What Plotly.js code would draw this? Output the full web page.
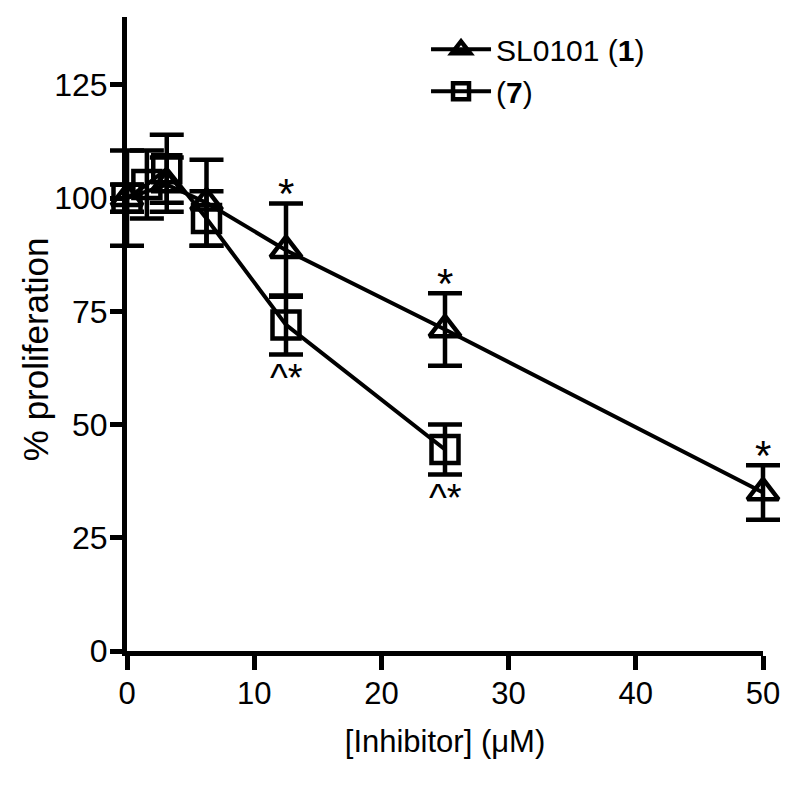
<!DOCTYPE html>
<html>
<head>
<meta charset="utf-8">
<script src="https://cdn.plot.ly/plotly-3.0.1.min.js"></script>
<style>html,body{margin:0;padding:0;background:#fff;}#chart{width:800px;height:786px;}</style>
</head>
<body>
<div id="chart"></div>
<script>
// SL0101 (1) — triangles
const triX = [0, 3.125, 6.25, 12.5, 25, 50];
const triY = [100, 103, 99, 88.5, 71, 35];
const triErr = [10.5, 6, 9.5, 10.3, 8, 6];
const triSig = ['', '', '', '*', '*', '*'];

// (7) — squares
const sqX = [0, 1.5625, 3.125, 6.25, 12.5, 25];
const sqY = [100, 103, 106.5, 95.5, 72, 44.5];
const sqErr = [3, 7.5, 7.5, 6, 6.5, 5.5];
const sqSig = ['', '', '', '', '^*', '^*'];

const seriesNames = ['SL0101 (<b>1</b>)', '(<b>7</b>)'];
const xTicks = [0, 10, 20, 30, 40, 50];
const yTicks = [0, 25, 50, 75, 100, 125];
const xTitle = '[Inhibitor] (\u03bcM)';
const yTitle = '% proliferation';

const FONT = 'Liberation Sans, Arial, sans-serif';
const errStyle = {type: 'data', visible: true, color: '#000', thickness: 4.5, width: 17};

// geometry: visible x axis spans px 127..763 for 0..50; data axis is wider so
// error-bar caps at the ends are not clipped.
const W = 800, H = 786, ML = 100, MR = 10, PAD = 27;
const plotW = W - ML - MR;
const xMin = xTicks[0], xMax = xTicks[xTicks.length - 1];
const pxPerUnit = (plotW - 2 * PAD) / (xMax - xMin);
const x2Range = [xMin - PAD / pxPerUnit, xMax + PAD / pxPerUnit];
const xDomain = [PAD / plotW, 1 - PAD / plotW];

const annotations = [];
triSig.forEach((t, i) => {
  if (t) annotations.push({x: triX[i], y: triY[i] + triErr[i], xref: 'x2', yref: 'y', text: t,
    showarrow: false, xanchor: 'center', yanchor: 'middle', yshift: 10,
    font: {family: FONT, size: 42, color: '#000'}});
});
sqSig.forEach((t, i) => {
  if (t) annotations.push({x: sqX[i], y: sqY[i] - sqErr[i], xref: 'x2', yref: 'y', text: t,
    showarrow: false, xanchor: 'center', yanchor: 'middle', yshift: -24,
    font: {family: FONT, size: 38, color: '#000'}});
});
annotations.push({x: 0, y: 0.476, xref: 'x domain', yref: 'paper', text: yTitle, textangle: -90,
  showarrow: false, xanchor: 'center', yanchor: 'middle', xshift: -92,
  font: {family: FONT, size: 35, color: '#000'}});

const data = [
  // empty trace so the visible axis subplot (x, y) is created
  {x: [], y: [], xaxis: 'x', yaxis: 'y', type: 'scatter', mode: 'markers',
   showlegend: false, hoverinfo: 'skip'},
  {
    x: triX, y: triY, name: seriesNames[0], type: 'scatter', mode: 'lines+markers',
    xaxis: 'x2', yaxis: 'y',
    line: {color: '#000', width: 4},
    marker: {symbol: 'triangle-up-open', size: 27, color: '#000', line: {width: 4.5, color: '#000'}},
    error_y: Object.assign({array: triErr}, errStyle),
    cliponaxis: false
  },
  {
    x: sqX, y: sqY, name: seriesNames[1], type: 'scatter', mode: 'lines+markers',
    xaxis: 'x2', yaxis: 'y',
    line: {color: '#000', width: 4},
    marker: {symbol: 'square-open', size: 27, color: '#000', line: {width: 4.5, color: '#000'}},
    error_y: Object.assign({array: sqErr}, errStyle),
    cliponaxis: false
  }
];

const layout = {
  width: W, height: H,
  margin: {l: ML, r: MR, t: 17, b: 135},
  paper_bgcolor: '#fff', plot_bgcolor: 'rgba(0,0,0,0)',
  font: {family: FONT, size: 30, color: '#000'},
  showlegend: true,
  legend: {x: 0.4725, y: 0.99, xanchor: 'left', yanchor: 'top', font: {family: FONT, size: 30, color: '#000'},
           bgcolor: 'rgba(0,0,0,0)', tracegroupgap: 0, itemwidth: 60},
  annotations: annotations,
  xaxis: {
    domain: xDomain, anchor: 'y',
    range: [xMin, xMax], tickvals: xTicks, ticktext: xTicks.map(String),
    showline: true, linecolor: '#000', linewidth: 5,
    ticks: 'outside', ticklen: 14, tickwidth: 5, tickcolor: '#000',
    showgrid: false, zeroline: false, ticklabelstandoff: -3,
    tickfont: {family: FONT, size: 31, color: '#000'},
    title: {text: xTitle, font: {family: FONT, size: 31, color: '#000'}, standoff: 22},
    automargin: false
  },
  xaxis2: {
    domain: [0, 1], anchor: 'y', range: x2Range, visible: false,
    showgrid: false, zeroline: false
  },
  yaxis: {
    anchor: 'x',
    range: [0, 140], tickvals: yTicks, ticktext: yTicks.map(String),
    showline: true, linecolor: '#000', linewidth: 5,
    ticks: 'outside', ticklen: 12, tickwidth: 5, tickcolor: '#000',
    showgrid: false, zeroline: false, ticklabelstandoff: -4,
    tickfont: {family: FONT, size: 32, color: '#000'},
    automargin: false
  }
};

Plotly.newPlot('chart', data, layout, {displayModeBar: false, staticPlot: true});
</script>
</body>
</html>
